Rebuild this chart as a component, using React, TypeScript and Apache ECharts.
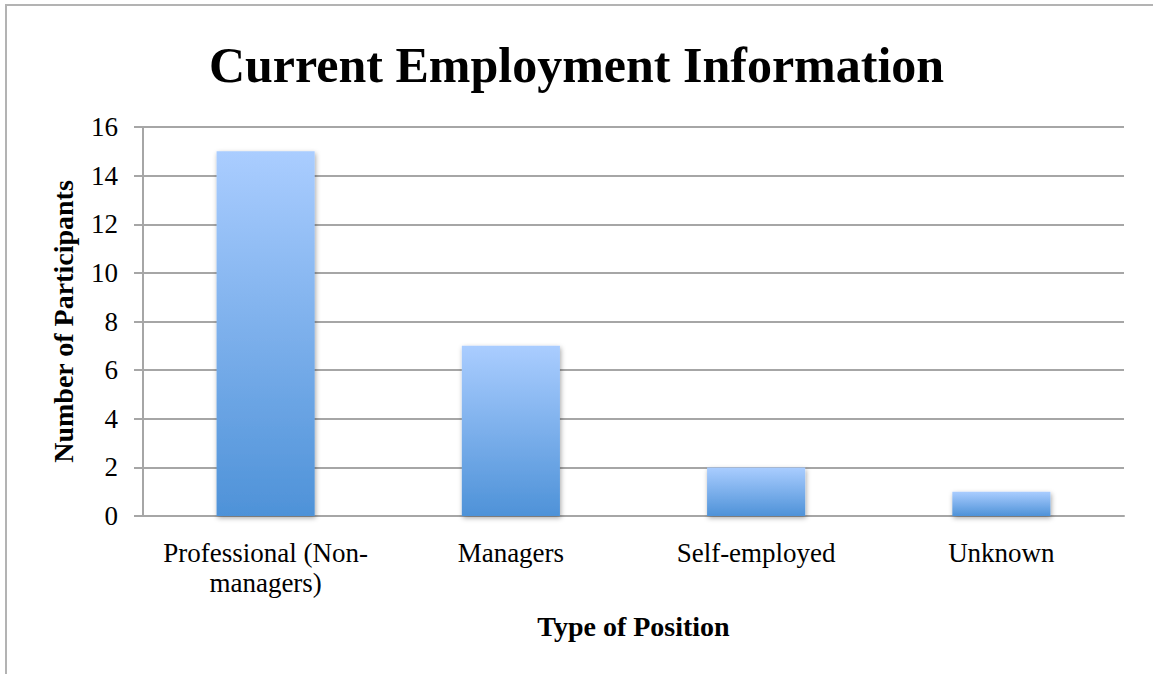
import React, { useEffect, useRef } from "react";
import * as echarts from "echarts";

const titleText = "Current Employment Information";
const categories = ["Professional (Non-\nmanagers)", "Managers", "Self-employed", "Unknown"];
const participants = [15, 7, 2, 1];
const yTicks = { min: 0, max: 16, interval: 2 };
const xAxisName = "Type of Position";
const yAxisName = "Number of Participants";

const FONT = "'Liberation Serif', 'Times New Roman', serif";

export default function App() {
  const ref = useRef<HTMLDivElement>(null);
  useEffect(() => {
    if (!ref.current) return;
    const chart = echarts.init(ref.current, null, { renderer: "svg" });
    chart.setOption({
      animation: false,
      backgroundColor: "#ffffff",
      title: {
        text: titleText,
        left: "center",
        top: 35,
        textStyle: { fontFamily: FONT, fontSize: 50, fontWeight: "bold", color: "#000" },
      },
      graphic: [
        {
          type: "rect",
          shape: { x: 6, y: 5, width: 1170, height: 700 },
          style: { fill: "none", stroke: "#b3b3b3", lineWidth: 2 },
          silent: true,
        },
      ],
      grid: { left: 143, right: 29, top: 127, bottom: 158, containLabel: false },
      xAxis: {
        type: "category",
        data: categories,
        name: xAxisName,
        nameLocation: "middle",
        nameGap: 96,
        nameTextStyle: { fontFamily: FONT, fontSize: 28, fontWeight: "bold", color: "#000" },
        axisLine: { show: true, lineStyle: { color: "#a6a6a6", width: 2 } },
        axisTick: { show: false },
        axisLabel: {
          fontFamily: FONT,
          fontSize: 27,
          color: "#000",
          margin: 22,
          lineHeight: 30,
          interval: 0,
        },
      },
      yAxis: {
        type: "value",
        min: yTicks.min,
        max: yTicks.max,
        interval: yTicks.interval,
        name: yAxisName,
        nameLocation: "middle",
        nameGap: 66,
        nameRotate: 90,
        nameTextStyle: { fontFamily: FONT, fontSize: 28, fontWeight: "bold", color: "#000" },
        axisLine: { show: true, lineStyle: { color: "#a6a6a6", width: 2 } },
        axisTick: { show: true, inside: false, length: 9, lineStyle: { color: "#a6a6a6", width: 2 } },
        axisLabel: { fontFamily: FONT, fontSize: 27, color: "#000", margin: 25 },
        splitLine: { show: true, lineStyle: { color: "#a6a6a6", width: 2 } },
      },
      series: [
        {
          type: "bar",
          data: participants,
          barWidth: "40%",
          itemStyle: {
            color: new echarts.graphic.LinearGradient(0, 0, 0, 1, [
              { offset: 0, color: "#aacdff" },
              { offset: 1, color: "#4e92d8" },
            ]),
            shadowColor: "rgba(0,0,0,0.35)",
            shadowBlur: 5,
            shadowOffsetX: 1,
            shadowOffsetY: 2,
          },
        },
      ],
    });
    return () => chart.dispose();
  }, []);
  return <div ref={ref} style={{ width: 1153, height: 674, position: "absolute", left: 0, top: 0 }} />;
}
